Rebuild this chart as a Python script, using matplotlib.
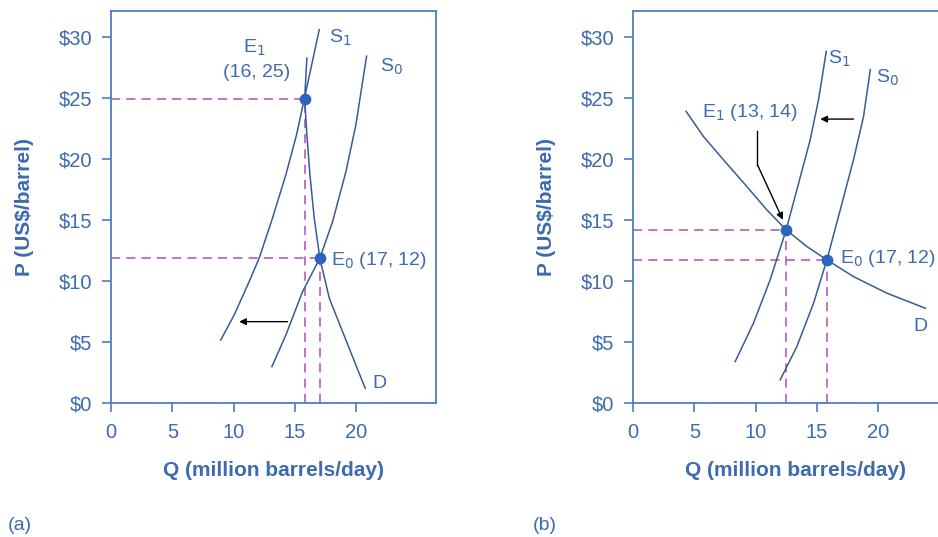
import matplotlib.pyplot as plt

plt.rcParams['font.family'] = ['Liberation Sans', 'DejaVu Sans']

# colours
txt_blue = '#3d6ab0'
line_blue = '#3a5a98'
dot_blue = '#2a64bf'
dash_col = '#b24bb8'
spine_col = '#4f7cbc'

# ---- panel (a) data ----
a_s1_q = [8.95, 10.04, 11.27, 12.08, 13.17, 14.26, 15.13, 15.76, 16.3, 16.98]
a_s1_p = [5.16, 7.2, 9.95, 11.86, 15.14, 18.7, 21.97, 24.9, 27.4, 30.57]
a_s0_q = [13.12, 14.26, 15.62, 17.03, 18.07, 19.16, 19.97, 20.84]
a_s0_p = [2.98, 5.57, 9.12, 11.86, 14.86, 18.96, 22.8, 28.4]
a_d_q = [15.97, 15.79, 15.97, 16.22, 16.57, 17.03, 17.8, 18.88, 19.97, 20.73]
a_d_p = [28.25, 24.9, 21.97, 18.7, 15.14, 11.86, 8.58, 5.85, 3.1, 1.2]
a_eq_q = [15.79, 17.03]
a_eq_p = [24.9, 11.86]

# ---- panel (b) data ----
b_s1_q = [8.33, 9.82, 11.18, 12.49, 13.36, 14.45, 15.13, 15.76]
b_s1_p = [3.39, 6.53, 10.08, 14.18, 17.46, 21.56, 24.84, 28.8]
b_s0_q = [12.0, 13.36, 14.72, 15.81, 16.9, 17.98, 18.8, 19.35]
b_s0_p = [1.89, 4.62, 8.17, 11.72, 15.82, 19.92, 23.47, 27.3]
b_d_q = [4.33, 5.74, 7.37, 9.28, 10.91, 12.49, 14.18, 15.81, 17.98, 20.71, 23.84]
b_d_p = [23.88, 21.83, 19.92, 17.73, 15.82, 14.18, 12.81, 11.72, 10.35, 8.99, 7.76]
b_eq_q = [12.49, 15.81]
b_eq_p = [14.18, 11.72]

yticks = [0, 5, 10, 15, 20, 25, 30]
ytick_labels = ['$0', '$5', '$10', '$15', '$20', '$25', '$30']
xticks = [0, 5, 10, 15, 20]

fig = plt.figure(figsize=(9.38, 5.37), dpi=100)
W, H = 938, 537


def make_axes(left_px):
    ax = fig.add_axes([left_px / W, (H - 403) / H, 325 / W, 392 / H])
    ax.set_xlim(0, 26.5)
    ax.set_ylim(0, 32.1)
    for s in ax.spines.values():
        s.set_color(spine_col)
        s.set_linewidth(1.3)
    ax.set_yticks(yticks)
    ax.set_yticklabels(ytick_labels)
    ax.set_xticks(xticks)
    ax.tick_params(colors=spine_col, labelcolor=txt_blue, labelsize=14.5,
                   length=6.5, width=1.2)
    ax.tick_params(axis='y', pad=7)
    ax.tick_params(axis='x', pad=8)
    ax.set_ylabel('P (US$/barrel)', fontsize=15, fontweight='bold', color=txt_blue)
    ax.yaxis.set_label_coords(-0.238, 0.5)
    ax.set_xlabel('Q (million barrels/day)', fontsize=15, fontweight='bold', color=txt_blue)
    ax.xaxis.set_label_coords(0.5, -0.148)
    return ax


def dashes(ax, q, p):
    for qi, pi in zip(q, p):
        ax.plot([0, qi], [pi, pi], color=dash_col, lw=1.1, ls=(0, (6, 4)), zorder=1)
        ax.plot([qi, qi], [0, pi], color=dash_col, lw=1.1, ls=(0, (6, 4)), zorder=1)


def arrow(ax, tip, tail):
    ax.annotate('', xy=tip, xytext=tail,
                arrowprops=dict(arrowstyle='-|>', color='black', lw=1.0,
                                mutation_scale=10, shrinkA=0, shrinkB=0))


# ---- (a) ----
ax1 = make_axes(111)
dashes(ax1, a_eq_q, a_eq_p)
for q, p in [(a_s1_q, a_s1_p), (a_s0_q, a_s0_p), (a_d_q, a_d_p)]:
    ax1.plot(q, p, color=line_blue, lw=1.1, zorder=2)
ax1.scatter(a_eq_q, a_eq_p, s=55, color=dot_blue, zorder=3)
arrow(ax1, (10.45, 6.66), (14.39, 6.66))
ax1.text(11.7, 29.1, 'E$_1$', fontsize=14, color=txt_blue, ha='center', va='center')
ax1.text(11.85, 27.1, '(16, 25)', fontsize=14, color=txt_blue, ha='center', va='center')
ax1.text(17.8, 29.9, 'S$_1$', fontsize=14, color=txt_blue, ha='left', va='center')
ax1.text(21.9, 27.5, 'S$_0$', fontsize=14, color=txt_blue, ha='left', va='center')
ax1.text(17.9, 11.7, 'E$_0$ (17, 12)', fontsize=14, color=txt_blue, ha='left', va='center')
ax1.text(21.3, 1.6, 'D', fontsize=14, color=txt_blue, ha='left', va='center')

# ---- (b) ----
ax2 = make_axes(633)
dashes(ax2, b_eq_q, b_eq_p)
for q, p in [(b_s1_q, b_s1_p), (b_s0_q, b_s0_p), (b_d_q, b_d_p)]:
    ax2.plot(q, p, color=line_blue, lw=1.1, zorder=2)
ax2.scatter(b_eq_q, b_eq_p, s=55, color=dot_blue, zorder=3)
arrow(ax2, (15.27, 23.25), (17.98, 23.25))
ax2.plot([10.15, 10.15], [22.24, 19.5], color='black', lw=1.0)
arrow(ax2, (12.22, 15.0), (10.15, 19.5))
ax2.text(5.6, 23.8, 'E$_1$ (13, 14)', fontsize=14, color=txt_blue, ha='left', va='center')
ax2.text(15.9, 28.2, 'S$_1$', fontsize=14, color=txt_blue, ha='left', va='center')
ax2.text(19.8, 26.6, 'S$_0$', fontsize=14, color=txt_blue, ha='left', va='center')
ax2.text(16.9, 11.8, 'E$_0$ (17, 12)', fontsize=14, color=txt_blue, ha='left', va='center')
ax2.text(22.9, 6.3, 'D', fontsize=14, color=txt_blue, ha='left', va='center')

fig.text(8 / W, 1 - 525 / H, '(a)', fontsize=14, color=txt_blue, va='center')
fig.text(533 / W, 1 - 525 / H, '(b)', fontsize=14, color=txt_blue, va='center')

fig.savefig('out.png', dpi=100)
